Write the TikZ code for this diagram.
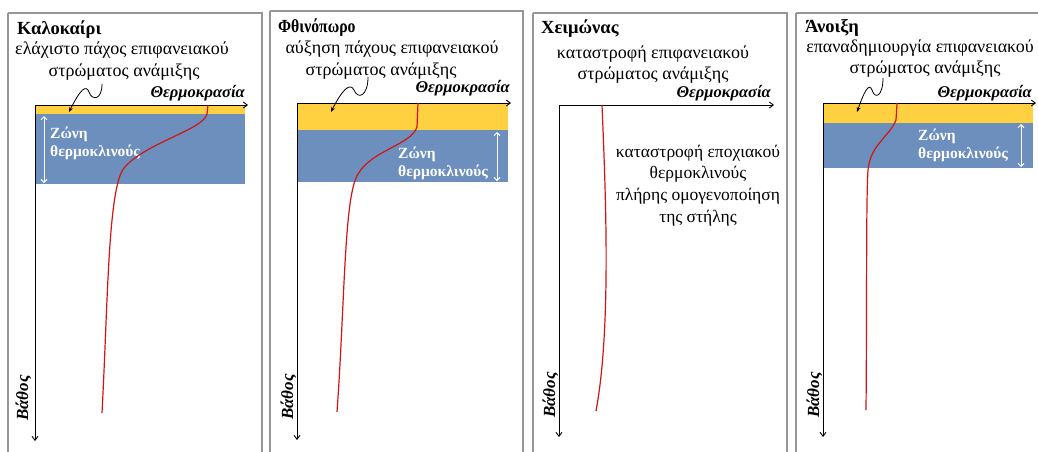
\documentclass[tikz,border=0pt]{standalone}
\usepackage{fontspec}
\setmainfont{Liberation Serif}
\usetikzlibrary{arrows.meta}
\definecolor{mixyellow}{RGB}{255,208,64}
\definecolor{thermoblue}{RGB}{108,143,190}
\definecolor{profred}{RGB}{210,20,20}
\definecolor{framegray}{RGB}{150,150,150}
\tikzset{
  panel/.style={draw=framegray,line width=1.3pt},
  axis/.style={draw=black,line width=0.9pt,-{Straight Barb[length=4pt,width=6pt]}},
  title/.style={anchor=base west,inner sep=0pt,font=\fontsize{18.5}{21}\selectfont\bfseries},
  sub/.style={anchor=base,inner sep=0pt,font=\fontsize{18}{21}\selectfont},
  temp/.style={anchor=base east,inner sep=0pt,font=\fontsize{16.5}{19}\selectfont\bfseries\itshape},
  depth/.style={anchor=base,rotate=90,inner sep=0pt,font=\fontsize{17}{19}\selectfont\bfseries\itshape},
  zone/.style={anchor=base west,inner sep=0pt,text=white,font=\fontsize{15.5}{18}\selectfont\bfseries},
  zarrow/.style={draw=white,line width=0.9pt,{Straight Barb[length=3pt,width=6pt]}-{Straight Barb[length=3pt,width=6pt]}},
  wavy/.style={draw=black,line width=0.8pt,-{Stealth[length=5pt,width=4pt]}},
  profile/.style={draw=profred,line width=1.2pt},
  note/.style={anchor=base,inner sep=0pt,font=\fontsize{17.5}{20}\selectfont},
}
\begin{document}
\begin{tikzpicture}[x=1pt,y=-1pt]
\useasboundingbox (0,0) rectangle (1038,451);
\clip (0,0) rectangle (1038,451);
\fill[white] (0,0) rectangle (1038,451);

% ---------- Panel 1 : summer ----------
\draw[panel] (8,13) -- (8,470) (8,13) -- (262,13) -- (262,470);
\fill[mixyellow] (35,105) rectangle (245,114);
\fill[thermoblue] (35,114) rectangle (245,184);
\node[title] (t1) at (17,34) {Καλοκαίρι};
\node[sub] (s1a) at (122,54) {ελάχιστο πάχος επιφανειακού};
\node[sub] (s1b) at (124,76) {στρώματος ανάμιξης};
\node[temp] (th1) at (245,97) {Θερμοκρασία};
\coordinate (o1) at (35,105);
\coordinate (xe1) at (248,105);
\coordinate (ye1) at (35,441);
\draw[axis] (o1) -- (xe1);
\draw[axis] (o1) -- (ye1);
\coordinate (w1s) at (102,84);
\coordinate (w1e) at (69,112);
\draw[wavy] (w1s) .. controls (102,100) and (92,101) .. (89,92) .. controls (86,84) and (80,90) .. (w1e);
\coordinate (z1t) at (44,116);
\coordinate (z1b) at (44,183);
\draw[zarrow] (z1t) -- (z1b);
\node[zone] (zl1a) at (50,138) {Ζώνη};
\node[zone] (zl1b) at (50,156) {θερμοκλινούς};
\coordinate (p1a) at (208,105);
\coordinate (p1b) at (102,413);
\draw[profile] (p1a) -- (207,114) .. controls (203,130) and (145,143) .. (124,168) .. controls (108,188) and (108,300) .. (p1b);
\node[depth] (d1) at (28,398) {Βάθος};

% ---------- Panel 2 : autumn ----------
\draw[panel] (270,11) -- (270,470) (270,11) -- (523,11) -- (523,470);
\fill[mixyellow] (297,103) rectangle (508,130);
\fill[thermoblue] (297,130) rectangle (508,182);
\node[title,xscale=0.85] (t2) at (278,32) {Φθινόπωρο};
\node[sub] (s2a) at (392,53) {αύξηση πάχους επιφανειακού};
\node[sub] (s2b) at (381,75) {στρώματος ανάμιξης};
\node[temp] (th2) at (510,92) {Θερμοκρασία};
\coordinate (o2) at (297,103);
\coordinate (xe2) at (511,103);
\coordinate (ye2) at (297,440);
\draw[axis] (o2) -- (xe2);
\draw[axis] (o2) -- (ye2);
\coordinate (w2s) at (368,77);
\coordinate (w2e) at (331,112);
\draw[wavy] (w2s) .. controls (368,96) and (358,100) .. (354,90) .. controls (350,82) and (342,90) .. (w2e);
\coordinate (z2t) at (497,132);
\coordinate (z2b) at (497,181);
\draw[zarrow] (z2t) -- (z2b);
\node[zone] (zl2a) at (398,158) {Ζώνη};
\node[zone] (zl2b) at (398,176) {θερμοκλινούς};
\coordinate (p2a) at (418,103);
\coordinate (p2b) at (337,412);
\draw[profile] (p2a) -- (417,127) .. controls (411,145) and (372,150) .. (358,174) .. controls (344,196) and (345,300) .. (p2b);
\node[depth] (d2) at (293,397) {Βάθος};

% ---------- Panel 3 : winter ----------
\draw[panel] (533,13) -- (533,470) (533,13) -- (787,13) -- (787,470);
\node[title] (t3) at (541,33) {Χειμώνας};
\node[sub] (s3a) at (653,58) {καταστροφή επιφανειακού};
\node[sub] (s3b) at (653,79) {στρώματος ανάμιξης};
\node[temp] (th3) at (771,97) {Θερμοκρασία};
\coordinate (o3) at (559,105);
\coordinate (xe3) at (774,105);
\coordinate (ye3) at (559,437);
\draw[axis] (o3) -- (xe3);
\draw[axis] (o3) -- (ye3);
\coordinate (p3a) at (602,105);
\coordinate (p3b) at (596,411);
\draw[profile] (p3a) .. controls (606,200) and (611,330) .. (p3b);
\node[note] (n3a) at (698,157) {καταστροφή εποχιακού};
\node[note] (n3b) at (698,178) {θερμοκλινούς};
\node[note] (n3c) at (698,200) {πλήρης ομογενοποίηση};
\node[note] (n3d) at (698,222) {της στήλης};
\node[depth] (d3) at (555,395) {Βάθος};

% ---------- Panel 4 : spring ----------
\draw[panel] (796,13) -- (796,470) (796,13) -- (1045,13);
\fill[mixyellow] (823,103) rectangle (1033,123);
\fill[thermoblue] (823,123) rectangle (1033,168);
\node[title] (t4) at (805,32) {Άνοιξη};
\node[sub] (s4a) at (920,52) {επαναδημιουργία επιφανειακού};
\node[sub] (s4b) at (925,73) {στρώματος ανάμιξης};
\node[temp] (th4) at (1032,97) {Θερμοκρασία};
\coordinate (o4) at (823,103);
\coordinate (xe4) at (1036,103);
\coordinate (ye4) at (823,437);
\draw[axis] (o4) -- (xe4);
\draw[axis] (o4) -- (ye4);
\coordinate (w4s) at (883,78);
\coordinate (w4e) at (857,112);
\draw[wavy] (w4s) .. controls (883,96) and (875,100) .. (872,90) .. controls (869,82) and (864,92) .. (w4e);
\coordinate (z4t) at (1021,124);
\coordinate (z4b) at (1021,167);
\draw[zarrow] (z4t) -- (z4b);
\node[zone] (zl4a) at (918,140) {Ζώνη};
\node[zone] (zl4b) at (918,158) {θερμοκλινούς};
\coordinate (p4a) at (897,103);
\coordinate (p4b) at (866,410);
\draw[profile] (p4a) -- (896,120) .. controls (890,136) and (870,145) .. (868,170) .. controls (866,200) and (867,300) .. (p4b);
\node[depth] (d4) at (819,395) {Βάθος};
\end{tikzpicture}
\end{document}
